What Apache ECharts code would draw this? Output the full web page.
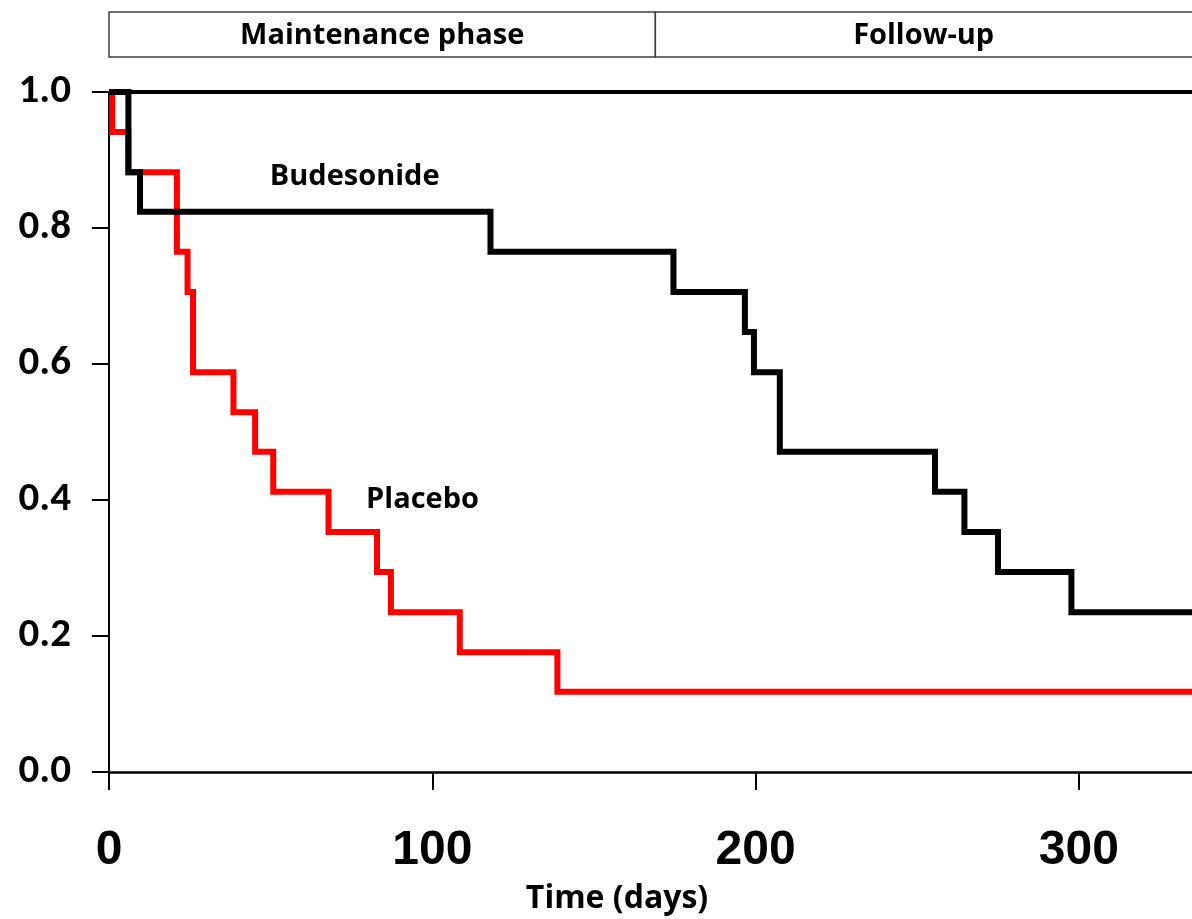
<!DOCTYPE html>
<html>
<head>
<meta charset="utf-8">
<script src="https://cdn.jsdelivr.net/npm/echarts@6/dist/echarts.min.js"></script>
<style>
html,body{margin:0;padding:0;background:#fff;}
#chart{width:1192px;height:919px;}
</style>
</head>
<body>
<div id="chart"></div>
<script>
// ---- data ----
const budesonideDays = [0, 6, 9.6, 118, 174.6, 196.7, 199.5, 207.5, 255.5, 264.6, 275, 297.7, 335];
const budesonideSurv = [1.0, 0.882, 0.824, 0.765, 0.706, 0.647, 0.588, 0.471, 0.412, 0.353, 0.294, 0.235, 0.235];
const placeboDays = [0, 1, 6, 21, 24.3, 26, 38.5, 45.2, 50.8, 67.9, 82.9, 87.2, 108.5, 138.7, 335];
const placeboSurv = [1.0, 0.941, 0.882, 0.765, 0.706, 0.588, 0.529, 0.471, 0.412, 0.353, 0.294, 0.235, 0.176, 0.118, 0.118];
const xTicks = [0, 100, 200, 300];
const yTicks = ['0.0', '0.2', '0.4', '0.6', '0.8', '1.0'];
const phases = ['Maintenance phase', 'Follow-up'];
const phaseBoundary = 169;
const xMax = 335;
const seriesNames = ['Budesonide', 'Placebo'];
const seriesLabelPos = [[76, 0.876], [97, 0.40]];

(function () {
const chart = echarts.init(document.getElementById('chart'), null, {renderer: 'canvas'});
const textFont = "'Open Sans', 'Noto Sans', sans-serif";

const option = {
  animation: false,
  backgroundColor: '#fff',
  grid: {left: 109, right: 0, top: 92, bottom: 147, containLabel: false},
  xAxis: {
    type: 'value', min: 0, max: xMax, interval: 100,
    axisLine: {lineStyle: {color: '#000', width: 2.5}},
    axisTick: {length: 18, lineStyle: {color: '#000', width: 2}},
    splitLine: {show: false},
    axisLabel: {
      showMaxLabel: false,
      color: '#000', fontWeight: 'bold', fontSize: 48,
      fontFamily: "'Liberation Sans', Arial, sans-serif",
      margin: 55,
      formatter: v => xTicks.includes(v) ? String(v) : ''
    }
  },
  yAxis: {
    type: 'value', min: 0, max: 1, interval: 0.2,
    axisLine: {lineStyle: {color: '#000', width: 2}},
    axisTick: {length: 17, lineStyle: {color: '#000', width: 2}},
    splitLine: {show: false},
    axisLabel: {
      color: '#000', fontWeight: 'bold', fontSize: 41,
      fontFamily: "Carlito, " + textFont,
      margin: 38,
      formatter: v => yTicks[Math.round(v * 5)]
    }
  },
  series: [
    {
      name: seriesNames[1], type: 'line', step: 'end', symbol: 'none',
      data: placeboDays.map((d, i) => [d, placeboSurv[i]]),
      lineStyle: {color: '#ff0000', width: 6, join: 'miter'},
      z: 2
    },
    {
      name: seriesNames[0], type: 'line', step: 'end', symbol: 'none',
      data: budesonideDays.map((d, i) => [d, budesonideSurv[i]]),
      lineStyle: {color: '#000', width: 6, join: 'miter'},
      z: 3,
      markLine: {
        silent: true, symbol: 'none', label: {show: false},
        lineStyle: {color: '#000', width: 4, type: 'solid'},
        data: [{yAxis: 1}]
      }
    }
  ]
};
chart.setOption(option);

const px = (x, y) => chart.convertToPixel({gridIndex: 0}, [x, y]);
const x0 = px(0, 0)[0];
const xb = px(phaseBoundary, 0)[0];
const xe = px(xMax, 0)[0];
const boxTop = 12, boxH = 45;
const graphics = [
  {type: 'rect', shape: {x: x0, y: boxTop, width: xb - x0, height: boxH}, style: {fill: '#fff', stroke: '#404040', lineWidth: 1.5}},
  {type: 'rect', shape: {x: xb, y: boxTop, width: xe - xb + 20, height: boxH}, style: {fill: '#fff', stroke: '#404040', lineWidth: 1.5}},
  {type: 'text', x: (x0 + xb) / 2, y: boxTop + boxH / 2 + 1, style: {text: phases[0], fill: '#000', font: "bold 29px " + textFont, textAlign: 'center', textVerticalAlign: 'middle'}},
  {type: 'text', x: (xb + xe) / 2, y: boxTop + boxH / 2 + 1, style: {text: phases[1], fill: '#000', font: "bold 29px " + textFont, textAlign: 'center', textVerticalAlign: 'middle'}},
  {type: 'text', x: 617, y: 899, style: {text: 'Time (days)', fill: '#000', font: "bold 32px " + textFont, textAlign: 'center', textVerticalAlign: 'middle'}}
];
seriesNames.forEach((n, i) => {
  const p = px(seriesLabelPos[i][0], seriesLabelPos[i][1]);
  graphics.push({type: 'text', x: p[0], y: p[1], z: 10, style: {text: n, fill: '#000', font: "bold 29px " + textFont, textAlign: 'center', textVerticalAlign: 'middle'}});
});
chart.setOption({graphic: graphics});
})();
</script>
</body>
</html>
